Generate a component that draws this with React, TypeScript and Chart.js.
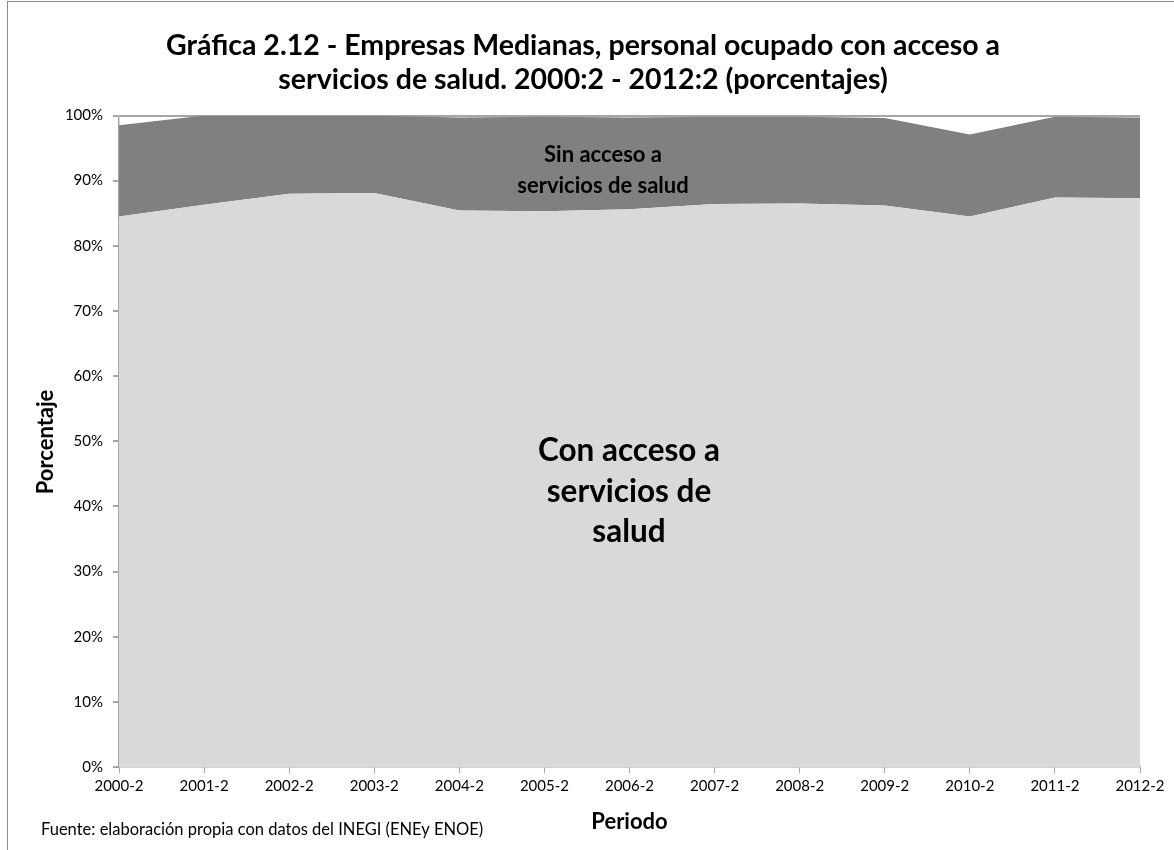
import React, { useEffect, useRef } from "react";
import { Chart, registerables } from "chart.js";

Chart.register(...registerables);

const periods = ["2000-2", "2001-2", "2002-2", "2003-2", "2004-2", "2005-2", "2006-2", "2007-2", "2008-2", "2009-2", "2010-2", "2011-2", "2012-2"];
const conAcceso = [84.5, 86.3, 88.0, 88.1, 85.4, 85.3, 85.6, 86.4, 86.5, 86.2, 84.5, 87.4, 87.3];
const sinAcceso = [14.0, 13.7, 12.0, 11.9, 14.3, 14.5, 14.1, 13.4, 13.3, 13.4, 12.6, 12.4, 12.4];
const yTicks = [0, 10, 20, 30, 40, 50, 60, 70, 80, 90, 100];

const titleLines = [
  "Gráfica 2.12 - Empresas Medianas, personal ocupado con acceso a",
  "servicios de salud. 2000:2 - 2012:2 (porcentajes)",
];
const sinLabel = ["Sin acceso a", "servicios de salud"];
const conLabel = ["Con acceso a", "servicios de", "salud"];
const yTitle = "Porcentaje";
const xTitle = "Periodo";
const footer = "Fuente: elaboración propia con datos del INEGI (ENEy ENOE)";

const FONT = "Lato, 'Open Sans', sans-serif";
const OX = 8;
const OY = 8;

const textPlugin = {
  id: "textPlugin",
  afterDraw(chart: any) {
    const ctx = chart.ctx;
    const ca = chart.chartArea;
    const cx = (ca.left + ca.right) / 2;
    ctx.save();
    ctx.fillStyle = "#000";
    ctx.textAlign = "center";
    ctx.textBaseline = "middle";
    ctx.font = `bold 28.5px ${FONT}`;
    ctx.fillText(titleLines[0], 583 - OX, 46 - OY);
    ctx.fillText(titleLines[1], 583 - OX, 80 - OY);

    ctx.font = `bold 22px ${FONT}`;
    ctx.fillText(sinLabel[0], 603 - OX, 155 - OY);
    ctx.fillText(sinLabel[1], 603 - OX, 186 - OY);

    ctx.font = `bold 31.5px ${FONT}`;
    ctx.fillText(conLabel[0], 629 - OX, 451 - OY);
    ctx.fillText(conLabel[1], 629 - OX, 492 - OY);
    ctx.fillText(conLabel[2], 629 - OX, 532 - OY);

    ctx.font = `bold 22px ${FONT}`;
    ctx.fillText(xTitle, cx, 822 - OY);
    ctx.save();
    ctx.translate(46 - OX, 442 - OY);
    ctx.rotate(-Math.PI / 2);
    ctx.fillText(yTitle, 0, 0);
    ctx.restore();

    ctx.font = `16.5px ${FONT}`;
    ctx.textAlign = "left";
    ctx.fillText(footer, 41 - OX, 830 - OY);
    ctx.restore();
  },
};

export default function App() {
  const ref = useRef<HTMLCanvasElement | null>(null);
  useEffect(() => {
    document.body.style.overflow = "hidden";
    const chart = new Chart(ref.current as HTMLCanvasElement, {
      type: "line",
      data: {
        labels: periods,
        datasets: [
          {
            label: "Con acceso a servicios de salud",
            data: conAcceso,
            backgroundColor: "#d9d9d9",
            borderColor: "#d9d9d9",
            borderWidth: 0,
            pointRadius: 0,
            fill: "origin",
            tension: 0,
          },
          {
            label: "Sin acceso a servicios de salud",
            data: sinAcceso,
            backgroundColor: "#808080",
            borderColor: "#808080",
            borderWidth: 0,
            pointRadius: 0,
            fill: "-1",
            tension: 0,
          },
        ],
      },
      options: {
        animation: false,
        responsive: false,
        layout: { padding: { left: 0, right: 34, top: 107.5, bottom: 0 } },
        plugins: {
          legend: { display: false },
          title: { display: false },
          tooltip: { enabled: false },
        },
        scales: {
          x: {
            offset: false,
            grid: {
              color: "transparent",
              tickColor: "#a6a6a6",
              tickLength: 6,
              drawOnChartArea: false,
            },
            border: { color: "#a6a6a6", width: 1.5 },
            ticks: {
              color: "#000",
              font: { family: FONT, size: 15 },
              padding: 4,
              maxRotation: 0,
              autoSkip: false,
            },
            afterFit: (s: any) => {
              s.height = 83;
            },
          },
          y: {
            stacked: true,
            min: 0,
            max: 100,
            afterBuildTicks: (s: any) => {
              s.ticks = yTicks.map((v) => ({ value: v }));
            },
            grid: {
              color: (c: any) => (c.tick && c.tick.value === 100 ? "#a6a6a6" : "transparent"),
              lineWidth: 2,
              tickColor: "#a6a6a6",
              tickLength: 6,
            },
            border: { color: "#a6a6a6", width: 1.5 },
            ticks: {
              color: "#000",
              font: { family: FONT, size: 15 },
              padding: 10,
              callback: (v: any) => v + "%",
            },
            afterFit: (s: any) => {
              s.width = 111;
            },
          },
        },
      },
      plugins: [textPlugin],
    });
    return () => chart.destroy();
  }, []);

  return (
    <div style={{ position: "absolute", left: 0, top: 0, width: 1174, height: 850, overflow: "hidden", background: "#fff" }}>
      <div style={{ position: "absolute", left: 7, top: 1, width: 1200, height: 900, border: "1px solid #8c8c8c" }} />
      <canvas ref={ref} width={1166} height={842} style={{ position: "absolute", left: OX, top: OY }} />
    </div>
  );
}
